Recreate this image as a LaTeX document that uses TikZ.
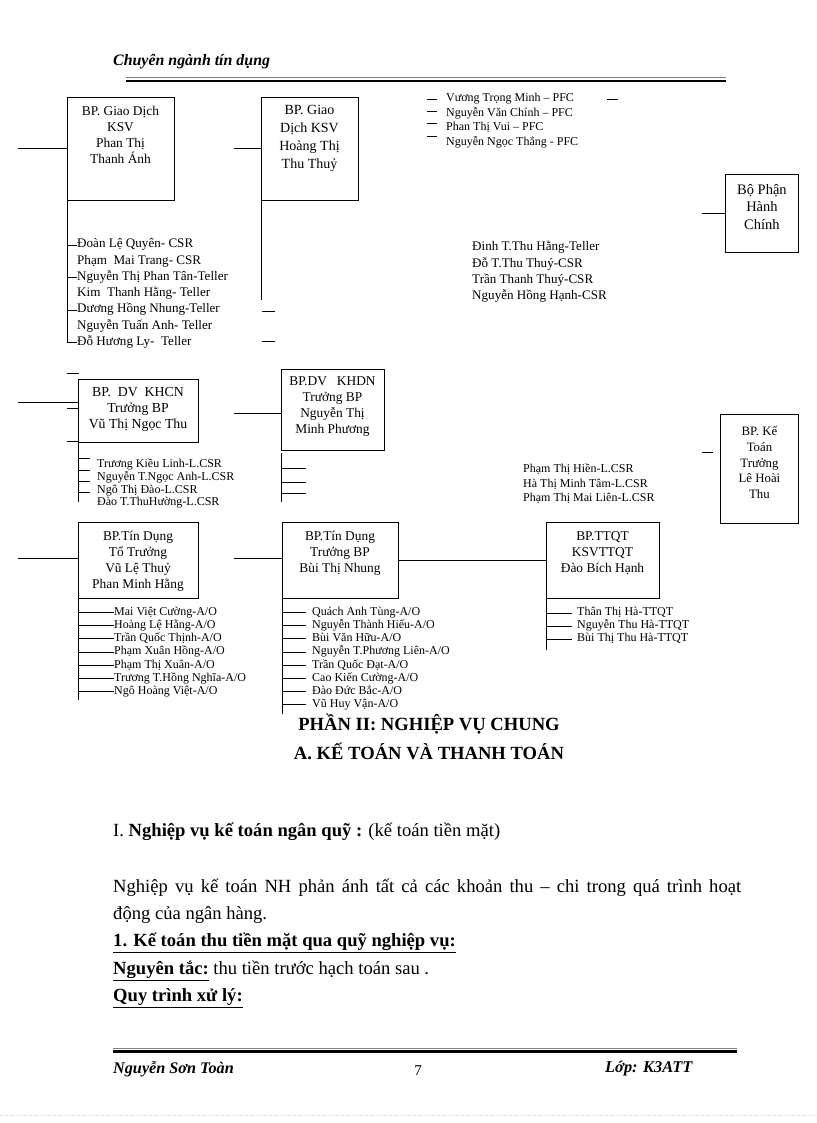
\documentclass[tikz,border=0pt]{standalone}
\usepackage{fontspec}
\setmainfont{Liberation Serif}
\begin{document}
\begin{tikzpicture}[x=1pt,y=-1pt,
  box/.style={draw,line width=0.9pt,anchor=north west,inner sep=0pt},
  btext/.style={anchor=north,align=center,inner sep=0pt,font=\fontsize{13.4}{16}\selectfont,execute at begin node={\rule{0pt}{10pt}}},
  item/.style={anchor=west,inner sep=0pt,text height=8pt,text depth=2.5pt,font=\fontsize{12}{14}\selectfont},
  bitem/.style={item,font=\fontsize{13.1}{14}\selectfont},
  sitem/.style={item,font=\fontsize{12}{13}\selectfont},
  ln/.style={line width=0.9pt},
  body/.style={anchor=west,inner sep=0pt,font=\fontsize{18.6}{22}\selectfont}]
\useasboundingbox (0,0) rectangle (816,1123);

% header
\node[anchor=west,inner sep=0pt,font=\bfseries\itshape\fontsize{15.9}{18}\selectfont] (hdr) at (113,62) {Chuyên ngành tín dụng};
\coordinate (h1) at (126,77.5); \coordinate (h2) at (726,77.5);
\coordinate (h3) at (126,81); \coordinate (h4) at (726,81);
\draw[gray,line width=1pt] (h1) -- (h2);
\draw[line width=2.6pt] (h3) -- (h4);

% ---- Box 1
\node[box,minimum width=107pt,minimum height=103pt] (b1) at (67,97) {};
\node[btext] (b1t) at (120.5,106) {BP. Giao Dịch\\KSV\\Phan Thị\\Thanh Ánh};
\coordinate (b1in) at (18,148);
\draw[ln] (b1in) -- (b1in -| b1.west);
\coordinate (v1) at (67,342);
\draw[ln] (b1.south west) -- (v1);
\foreach \t [count=\i] in {Đoàn Lệ Quyên- CSR,Phạm\ \ Mai Trang- CSR,Nguyễn Thị Phan Tân-Teller,Kim\ \ Thanh Hằng- Teller,Dương Hồng Nhung-Teller,Nguyễn Tuấn Anh- Teller,Đỗ Hương Ly-\ \ Teller}
  \node[bitem] (la\i) at (77,{245+16.3*(\i-1)}) {\t};
\foreach \i in {1,3,5,7} \draw[ln] (v1 |- la\i.west) -- (la\i.west);

% ---- Box 2
\node[box,minimum width=97pt,minimum height=103pt] (b2) at (261,97) {};
\node[btext,font=\fontsize{14}{18}\selectfont] (b2t) at (309.5,105) {BP. Giao\\Dịch KSV\\Hoàng Thị\\Thu Thuỷ};
\coordinate (b2in) at (234,148);
\draw[ln] (b2in) -- (b2in -| b2.west);
\coordinate (v2) at (261,300);
\draw[ln] (b2.south west) -- (v2);
\coordinate (t2a) at (262,311); \coordinate (t2b) at (262,341);
\draw[ln] (t2a) -- ++(13,0);
\draw[ln] (t2b) -- ++(13,0);

% ---- PFC list
\foreach \t [count=\i] in {Vương Trọng Minh – PFC,Nguyễn Văn Chính – PFC,Phan Thị Vui – PFC,Nguyễn Ngọc Thắng - PFC}
  \node[item] (lp\i) at (446,{99+14.6*(\i-1)}) {\t};
\foreach \y in {99,111,123,136} \draw[ln] (427,\y) -- (437,\y);
\coordinate (tp) at (607,99);
\draw[ln] (tp) -- ++(11,0);

% ---- Bo Phan Hanh Chinh
\node[box,minimum width=73pt,minimum height=78pt] (b3) at (725,174) {};
\node[btext,font=\fontsize{14.5}{17.5}\selectfont] (b3t) at (b3.north |- 0,184) {Bộ Phận\\Hành\\Chính};
\coordinate (b3in) at (702,213);
\draw[ln] (b3in) -- (b3in -| b3.west);

% ---- Teller list right
\foreach \t [count=\i] in {Đinh T.Thu Hằng-Teller,Đỗ T.Thu Thuý-CSR,Trần Thanh Thuý-CSR,Nguyễn Hồng Hạnh-CSR}
  \node[bitem] (lt\i) at (472,{248+16.3*(\i-1)}) {\t};

% ---- KHCN
\coordinate (t4a) at (67,373);
\draw[ln] (t4a) -- ++(12,0);
\node[box,minimum width=120pt,minimum height=63pt] (b4) at (78,379) {};
\node[btext,font=\fontsize{13.8}{16}\selectfont] (b4t) at (138,387) {BP.\ \ DV\ \ KHCN\\Trưởng BP\\Vũ Thị Ngọc Thu};
\coordinate (b4in) at (18,402);
\draw[ln] (b4in) -- (b4in -| b4.west);
\coordinate (t4b) at (67,408); \coordinate (t4c) at (67,441);
\draw[ln] (t4b) -- (t4b -| b4.west);
\draw[ln] (t4c) -- (t4c -| b4.west);
\coordinate (v4) at (78,502);
\draw[ln] (b4.south west) -- (v4);
\foreach \y in {458,470,481,492} \draw[ln] (78,\y) -- (90,\y);
\foreach \t [count=\i] in {Trương Kiều Linh-L.CSR,Nguyễn T.Ngọc Anh-L.CSR,Ngô Thị Đào-L.CSR,Đào T.ThuHường-L.CSR}
  \node[sitem] (lc\i) at (97,{465+12.7*(\i-1)}) {\t};

% ---- KHDN
\node[box,minimum width=103pt,minimum height=81pt] (b5) at (281,369) {};
\node[btext] (b5t) at (332.5,377) {BP.DV\ \ \ KHDN\\Trưởng BP\\Nguyễn Thị\\Minh Phương};
\coordinate (b5in) at (234,413);
\draw[ln] (b5in) -- (b5in -| b5.west);
\coordinate (v5a) at (281,453); \coordinate (v5b) at (281,502);
\draw[ln] (v5a) -- (v5b);
\foreach \y in {468,482,493} \draw[ln] (281,\y) -- (306,\y);

% ---- L.CSR right list
\foreach \t [count=\i] in {Phạm Thị Hiền-L.CSR,Hà Thị Minh Tâm-L.CSR,Phạm Thị Mai Liên-L.CSR}
  \node[item] (ld\i) at (523,{470+14.5*(\i-1)}) {\t};

% ---- Ke toan
\node[box,minimum width=78pt,minimum height=109pt] (b6) at (720,414) {};
\node[btext,font=\fontsize{12.8}{15.8}\selectfont] (b6t) at (b6.north |- 0,426) {BP. Kế\\Toán\\Trưởng\\Lê Hoài\\Thu};
\coordinate (t6) at (702,452);
\draw[ln] (t6) -- ++(11,0);

% ---- Tin dung 1
\node[box,minimum width=120pt,minimum height=76pt] (b7) at (78,522) {};
\node[btext] (b7t) at (138,531) {BP.Tín Dụng\\Tổ Trưởng\\Vũ Lệ Thuỷ\\Phan Minh Hằng};
\coordinate (b7in) at (18,558);
\draw[ln] (b7in) -- (b7in -| b7.west);
\coordinate (v7) at (78,700);
\draw[ln] (b7.south west) -- (v7);
\foreach \t [count=\i] in {Mai Việt Cường-A/O,Hoàng Lệ Hằng-A/O,Trần Quốc Thịnh-A/O,Phạm Xuân Hồng-A/O,Phạm Thị Xuân-A/O,Trương T.Hồng Nghĩa-A/O,Ngô Hoàng Việt-A/O}
  {\node[sitem] (le\i) at (114,{612.5+13.2*(\i-1)}) {\t};
   \draw[ln] (v7 |- le\i.west) -- (le\i.west);}

% ---- Tin dung 2
\node[box,minimum width=116pt,minimum height=76pt] (b8) at (282,522) {};
\node[btext] (b8t) at (340,531) {BP.Tín Dụng\\Trưởng BP\\Bùi Thị Nhung};
\coordinate (b8in) at (234,558);
\draw[ln] (b8in) -- (b8in -| b8.west);
\coordinate (v8) at (282,714);
\draw[ln] (b8.south west) -- (v8);
\foreach \t [count=\i] in {Quách Anh Tùng-A/O,Nguyễn Thành Hiếu-A/O,Bùi Văn Hữu-A/O,Nguyễn T.Phương Liên-A/O,Trần Quốc Đạt-A/O,Cao Kiến Cường-A/O,Đào Đức Bắc-A/O,Vũ Huy Vận-A/O}
  {\node[sitem] (lf\i) at (312,{612.5+13.2*(\i-1)}) {\t};
   \draw[ln] (v8 |- lf\i.west) -- ++(24,0);}

% ---- TTQT
\node[box,minimum width=113pt,minimum height=76pt] (b9) at (546,522) {};
\node[btext] (b9t) at (602.5,531) {BP.TTQT\\KSVTTQT\\Đào Bích Hạnh};
\draw[ln] (b8.east) -- (b9.west);
\coordinate (v9) at (546,650);
\draw[ln] (b9.south west) -- (v9);
\foreach \t [count=\i] in {Thân Thị Hà-TTQT,Nguyễn Thu Hà-TTQT,Bùi Thị Thu Hà-TTQT}
  {\node[sitem] (lg\i) at (577,{613+13*(\i-1)}) {\t};
   \draw[ln] (v9 |- lg\i.west) -- ++(26,0);}

% ---- headings
\node[inner sep=0pt,font=\bfseries\fontsize{18.6}{22}\selectfont] (h2a) at (429,724) {PHẦN II: NGHIỆP VỤ CHUNG};
\node[inner sep=0pt,font=\bfseries\fontsize{18.6}{22}\selectfont] (h2b) at (429,751) {A. KẾ TOÁN VÀ THANH TOÁN};

% ---- body
\node[body] (p1) at (113,832) {I. \textbf{Nghiệp vụ kế toán ngân quỹ :} (kế toán tiền mặt)};
\node[body] (p2) at (113,888) {\makebox[628pt][s]{Nghiệp vụ kế toán NH phản ánh tất cả các khoản thu – chi trong quá trình hoạt}};
\node[body] (p3) at (113,915) {động của ngân hàng.};
\node[body] (p4) at (113,943) {\textbf{\underline{1. Kế toán thu tiền mặt qua quỹ nghiệp vụ:}}};
\node[body] (p5) at (113,971) {\textbf{\underline{Nguyên tắc:}} thu tiền trước hạch toán sau .};
\node[body] (p6) at (113,998) {\textbf{\underline{Quy trình xử lý:}}};

% ---- footer
\coordinate (f1) at (113,1048); \coordinate (f2) at (737,1048);
\coordinate (f3) at (113,1051.5); \coordinate (f4) at (737,1051.5);
\draw[gray,line width=1pt] (f1) -- (f2);
\draw[line width=2.6pt] (f3) -- (f4);
\node[anchor=west,inner sep=0pt,font=\bfseries\itshape\fontsize{16.2}{18}\selectfont] (fa) at (113,1069) {Nguyễn Sơn Toàn};
\node[inner sep=0pt,font=\fontsize{15}{16}\selectfont] (fb) at (418,1071) {7};
\node[anchor=west,inner sep=0pt,font=\bfseries\itshape\fontsize{16.4}{18}\selectfont] (fc) at (605,1069) {Lớp: K3ATT};
\coordinate (d1) at (0,1115); \coordinate (d2) at (816,1115);
\draw[gray!40,dotted] (d1) -- (d2);
\end{tikzpicture}
\end{document}
